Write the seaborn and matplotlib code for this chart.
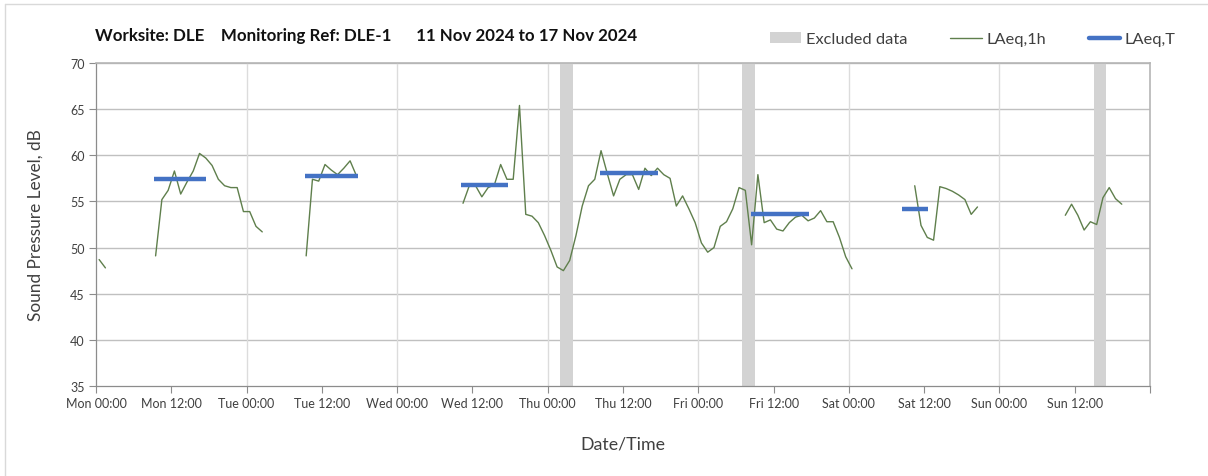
import matplotlib

matplotlib.use("Agg")
import matplotlib.pyplot as plt
import numpy as np
import pandas as pd
import seaborn as sns
from matplotlib.lines import Line2D
from matplotlib.patches import Patch

# hourly LAeq,1h readings, one list per run of data (hours since Mon 00:00)
seg_start = [0.5, 9.5, 33.5, 58.5, 130.5, 154.5]
seg_values = [
    [48.7, 47.8],
    [49.1, 55.2, 56.2, 58.3, 55.8, 57.1, 58.3, 60.2, 59.7, 58.9, 57.4, 56.7,
     56.5, 56.5, 53.9, 53.9, 52.3, 51.7],
    [49.1, 57.4, 57.2, 59.0, 58.4, 57.9, 58.6, 59.4, 57.8],
    [54.8, 56.7, 56.7, 55.5, 56.5, 56.8, 59.0, 57.4, 57.4, 65.4, 53.6, 53.4,
     52.7, 51.3, 49.7, 47.9, 47.5, 48.6, 51.3, 54.5, 56.7, 57.4, 60.5, 58.0,
     55.6, 57.4, 57.9, 57.9, 56.3, 58.6, 57.8, 58.6, 57.9, 57.5, 54.5, 55.6,
     54.2, 52.7, 50.5, 49.5, 50.0, 52.3, 52.8, 54.2, 56.5, 56.2, 50.3, 57.9,
     52.7, 53.0, 52.0, 51.8, 52.7, 53.3, 53.5, 52.9, 53.2, 54.0, 52.8, 52.8,
     51.1, 49.0, 47.7],
    [56.7, 52.4, 51.1, 50.8, 56.6, 56.4, 56.1, 55.7, 55.2, 53.6, 54.4],
    [53.5, 54.7, 53.5, 51.9, 52.8, 52.5, 55.4, 56.5, 55.3, 54.7],
]

# LAeq,T periods
period_start = [9.3, 33.3, 58.2, 80.4, 104.4, 128.4]
period_end = [17.5, 41.7, 65.7, 89.6, 113.7, 132.6]
period_level = [57.44, 57.77, 56.83, 58.09, 53.67, 54.15]

# excluded data windows
excl_start = [74.0, 103.0, 159.0]
excl_end = [76.0, 105.0, 161.0]

days = ["Mon", "Tue", "Wed", "Thu", "Fri", "Sat", "Sun"]
tick_labels = [f"{d} {t}" for d in days for t in ("00:00", "12:00")] + [""]

GREEN = "#5f7f4c"
BLUE = "#4472c4"
GREY_BAND = "#d3d3d3"
TEXT = "#404040"

rows = []
for i, (start, vals) in enumerate(zip(seg_start, seg_values)):
    for k, v in enumerate(vals):
        rows.append({"hour": start + k, "laeq": v, "segment": i})
df = pd.DataFrame(rows)

sns.set_theme(style="white")
plt.rcParams["font.family"] = ["Lato", "DejaVu Sans"]

fig = plt.figure(figsize=(12.08, 4.77), dpi=100)
ax = fig.add_axes([96 / 1208, 1 - 387 / 477, (1150 - 96) / 1208, (387 - 64) / 477])

for s, e in zip(excl_start, excl_end):
    ax.axvspan(s, e, color=GREY_BAND, lw=0, zorder=1)

sns.lineplot(data=df, x="hour", y="laeq", units="segment", estimator=None,
             color=GREEN, lw=1.0, ax=ax, zorder=3)
ax.hlines(period_level, period_start, period_end, color=BLUE, lw=3.2, zorder=4)

ax.set_xlim(0, 168)
ax.set_ylim(35, 70)
ax.set_xticks(np.arange(0, 169, 12))
ax.set_xticklabels(tick_labels, fontsize=9, color=TEXT)
ax.set_yticks(np.arange(35, 71, 5))
ax.tick_params(axis="y", labelsize=9, labelcolor=TEXT)
ax.tick_params(axis="both", direction="out", length=5, color="#8c8c8c", width=0.8,
               bottom=True, left=True, pad=3)

for y in range(40, 71, 5):
    ax.axhline(y, color="#c0c0c0", lw=1.0, zorder=0)
for x in range(24, 168, 24):
    ax.axvline(x, color="#dcdcdc", lw=1.0, zorder=0)

for side in ("left", "bottom"):
    ax.spines[side].set_color("#8c8c8c")
    ax.spines[side].set_linewidth(0.9)
for side in ("top", "right"):
    ax.spines[side].set_visible(True)
    ax.spines[side].set_color("#b5b5b5")
    ax.spines[side].set_linewidth(1.2)

ax.set_xlabel("Date/Time", fontsize=12.8, color=TEXT, labelpad=19)
ax.set_ylabel("Sound Pressure Level, dB", fontsize=12.4, color=TEXT, labelpad=19)

fig.text(95 / 1208, 1 - 36 / 477,
         "Worksite: DLE    Monitoring Ref: DLE-1      11 Nov 2024 to 17 Nov 2024",
         fontsize=12.2, fontweight="bold", color="#111111", ha="left", va="center")

handles = [
    Patch(facecolor=GREY_BAND, edgecolor="none", label="Excluded data"),
    Line2D([], [], color=GREEN, lw=1.0, label="LAeq,1h"),
    Line2D([], [], color=BLUE, lw=3.2, label="LAeq,T"),
]
leg = fig.legend(handles=handles, loc="center", ncol=3, frameon=False,
                 bbox_to_anchor=(973 / 1208, 1 - 40 / 477), fontsize=11.8,
                 handlelength=1.9, handletextpad=0.3, columnspacing=2.6)
for t in leg.get_texts():
    t.set_color(TEXT)

# thin chart-area frame seen on the top and left of the original
fig.add_artist(Line2D([5 / 1208, 1], [1 - 5 / 477, 1 - 5 / 477],
                      transform=fig.transFigure, color="#d9d9d9", lw=1))
fig.add_artist(Line2D([5 / 1208, 5 / 1208], [0, 1 - 5 / 477],
                      transform=fig.transFigure, color="#d9d9d9", lw=1))

fig.savefig("out.png", dpi=100)
